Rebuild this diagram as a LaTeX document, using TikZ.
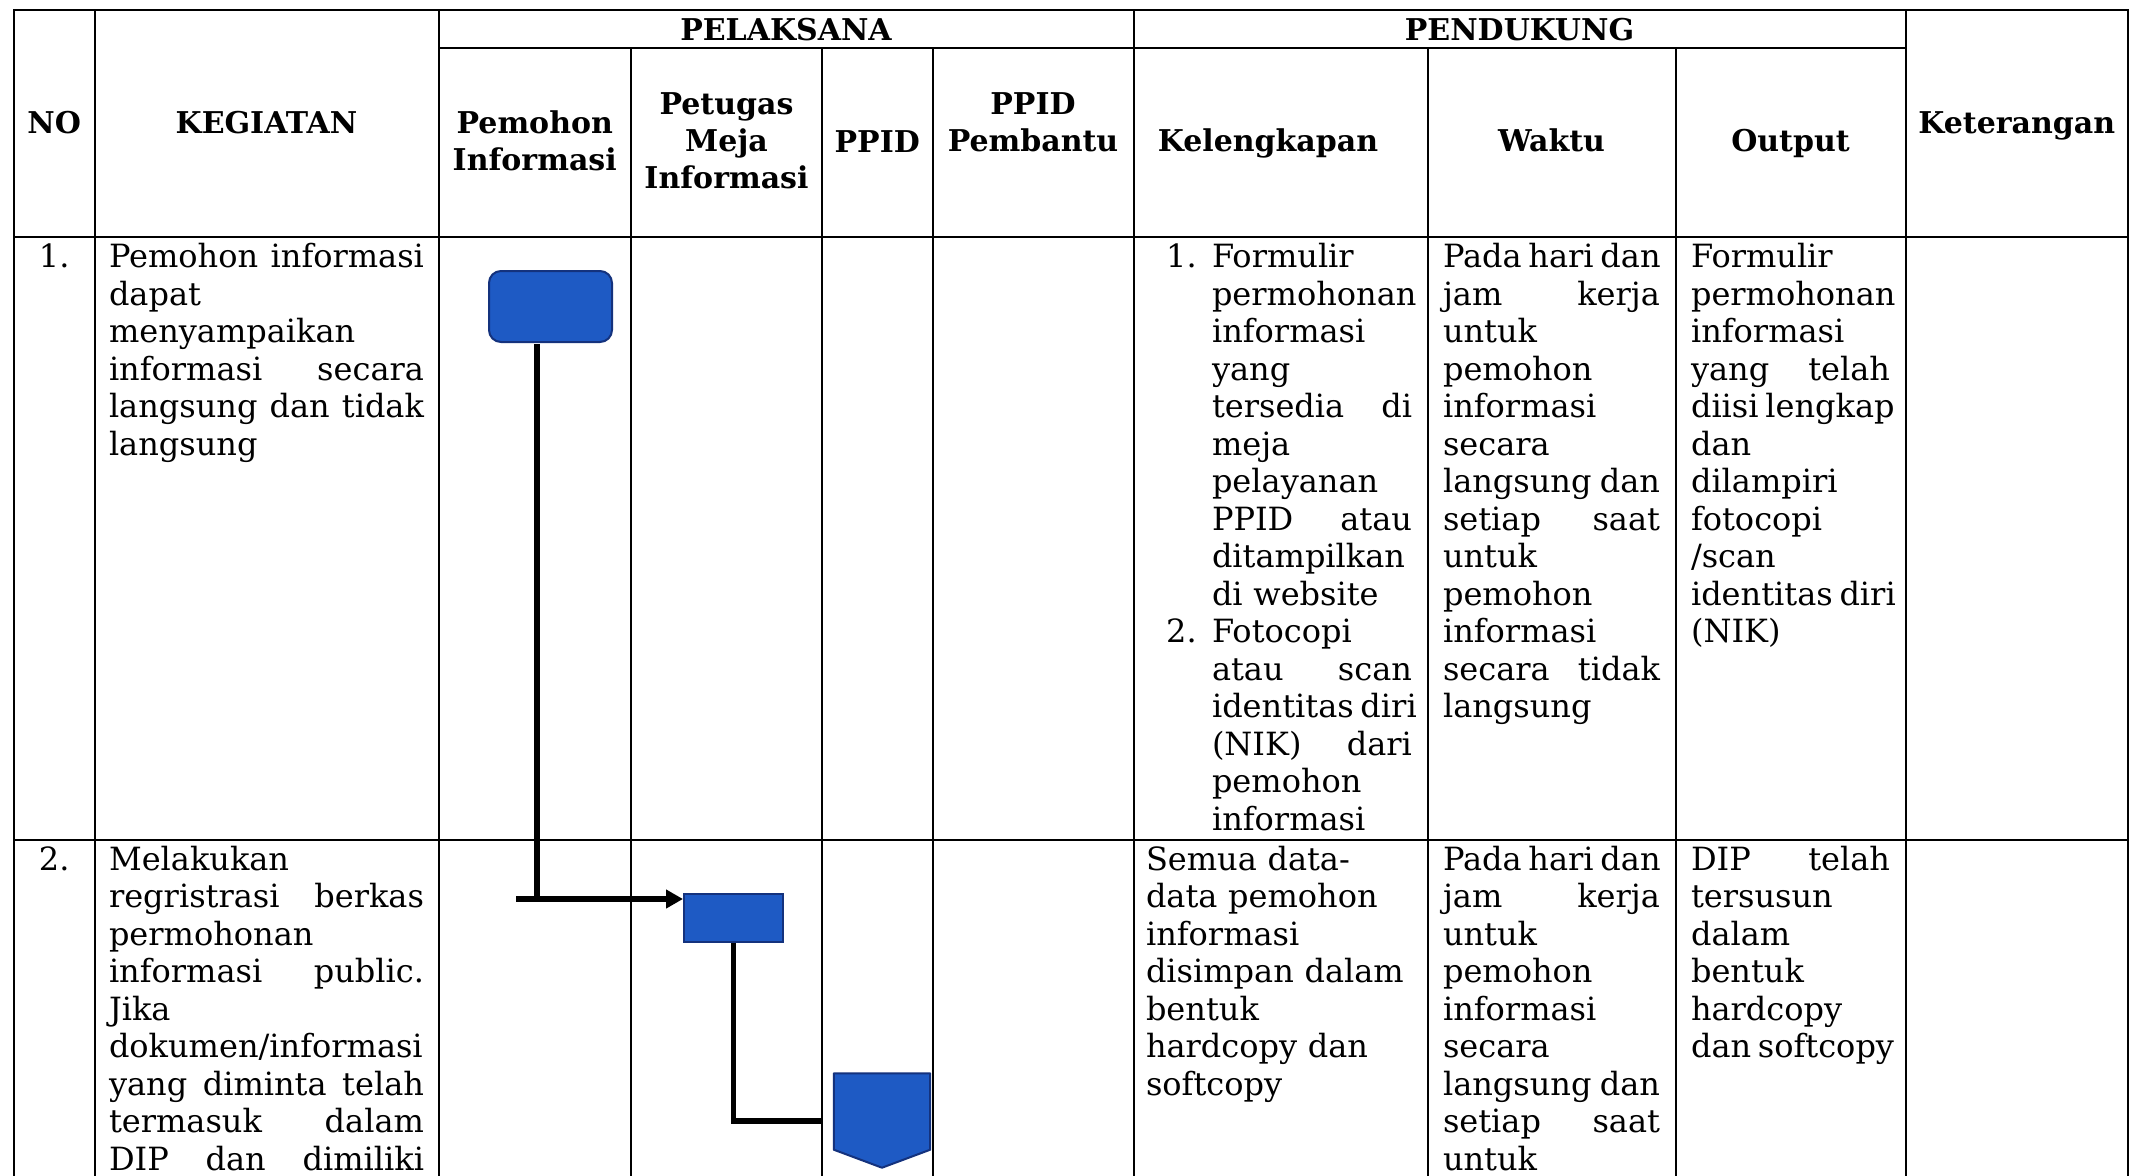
\documentclass[tikz,border=0pt]{standalone}
\usepackage{fontspec}
\setmainfont{DejaVu Serif}
\usetikzlibrary{arrows.meta,calc}

\definecolor{shapefill}{RGB}{30,90,196}
\definecolor{shapeedge}{RGB}{20,50,125}

\newcommand\bodyfont{\fontsize{32}{37.5}\selectfont\lefthyphenmin=62\relax}
\newcommand\headfont{\fontsize{30}{37}\selectfont\bfseries}
% a line whose word spaces are stretched (or squeezed) to the full cell width
\newcommand\jl[1]{\leavevmode\hbox to\hsize{\spaceskip=0pt\xspaceskip=0pt #1}}

\tikzset{
  rule/.style={line width=2pt, black, line cap=rect},
  bodycell/.style={anchor=north west, inner sep=0pt, outer sep=0pt, align=left, font=\bodyfont, text width=#1},
  numcell/.style={anchor=north, inner sep=0pt, align=center, font=\bodyfont, text width=70pt},
  listnum/.style={anchor=north west, inner sep=0pt, font=\bodyfont},
  headcell/.style={anchor=north, inner sep=0pt, align=center, font=\headfont, text width=#1},
  flowshape/.style={fill=shapefill, draw=shapeedge, line width=2pt, inner sep=0pt},
  flow/.style={line width=5.5pt, black},
}

\begin{document}
\begin{tikzpicture}[x=1pt,y=-1pt]
\useasboundingbox (0,0) rectangle (2130,1175);
\fill[white] (0,0) rectangle (2130,1175);

% table rules
\draw[rule] (14,9.5) -- (2128,9.5);
\draw[rule] (438.5,48) -- (1905.5,48);
\draw[rule] (14,237) -- (2128,237);
\draw[rule] (14,839.5) -- (2128,839.5);
\foreach \x in {14,94.5,438.5,1133.5,1905.5,2128}
  \draw[rule] (\x,9.5) -- (\x,1176);
\foreach \x in {631,822,932.5,1427.5,1675.5}
  \draw[rule] (\x,48) -- (\x,1176);

% header
\node[headcell=80pt]  (hNo)   at (54.25,107.6)  {\strut NO};
\node[headcell=330pt] (hKeg)  at (266.5,107.6)  {\strut KEGIATAN};
\node[headcell=600pt] (hPel)  at (786,14.6)     {\strut PELAKSANA};
\node[headcell=700pt] (hPen)  at (1519.5,14.6)  {\strut PENDUKUNG};
\node[headcell=190pt] (hPem)  at (534.75,107.1) {\strut Pemohon\\Informasi};
\node[headcell=190pt] (hPet)  at (726.5,88.6)   {\strut Petugas\\Meja\\Informasi};
\node[headcell=110pt] (hPpid) at (877.25,126.6) {\strut PPID};
\node[headcell=200pt] (hPpb)  at (1033,88.6)    {\strut PPID\\Pembantu};
\node[headcell=290pt] (hKel)  at (1268,125.6)   {\strut Kelengkapan};
\node[headcell=245pt] (hWak)  at (1551.5,125.6) {\strut Waktu};
\node[headcell=228pt] (hOut)  at (1790.5,125.6) {\strut Output};
\node[headcell=220pt] (hKet)  at (2016.75,107.6){\strut Keterangan};

% row 1
\node[numcell] (n1) at (54.25,241.5) {\strut 1.};
\node[bodycell=315pt] (keg1) at (109,241.5) {\strut\jl{Pemohon informasi}\\
dapat\\
menyampaikan\\
\jl{informasi secara}\\
\jl{langsung dan tidak}\\
langsung};
\node[listnum] (kel1a) at (1166,241.5) {\strut 1.};
\node[listnum] (kel1b) at (1166,616.5) {\strut 2.};
\node[bodycell=200pt] (kel1) at (1212,241.5) {\strut Formulir\\
permohonan\\
informasi\\
yang\\
\jl{tersedia di}\\
meja\\
pelayanan\\
\jl{PPID atau}\\
ditampilkan\\
\mbox{di website}\\
Fotocopi\\
\jl{atau scan}\\
\jl{identitas diri}\\
\jl{(NIK) dari}\\
pemohon\\
informasi};
\node[bodycell=217pt] (wak1) at (1443,241.5) {\strut\jl{Pada hari dan}\\
\jl{jam kerja}\\
untuk\\
pemohon\\
informasi\\
secara\\
\jl{langsung dan}\\
\jl{setiap saat}\\
untuk\\
pemohon\\
informasi\\
\jl{secara tidak}\\
langsung};
\node[bodycell=199pt] (out1) at (1691,241.5) {\strut Formulir\\
permohonan\\
informasi\\
\jl{yang telah}\\
\jl{diisi lengkap}\\
dan\\
dilampiri\\
fotocopi\\
/scan\\
\jl{identitas diri}\\
(NIK)};

% row 2
\node[numcell] (n2) at (54.25,843.75) {\strut 2.};
\node[bodycell=315pt] (keg2) at (109,843.75) {\strut Melakukan\\
\jl{regristrasi berkas}\\
permohonan\\
\jl{informasi public.}\\
Jika\\
dokumen/informasi\\
\jl{yang diminta telah}\\
\jl{termasuk dalam}\\
\jl{DIP dan dimiliki}};
\node[bodycell=266pt] (kel2) at (1146,843.75) {\strut\mbox{Semua data-}\\
\mbox{data pemohon}\\
informasi\\
\mbox{disimpan dalam}\\
bentuk\\
\mbox{hardcopy dan}\\
softcopy};
\node[bodycell=217pt] (wak2) at (1443,843.75) {\strut\jl{Pada hari dan}\\
\jl{jam kerja}\\
untuk\\
pemohon\\
informasi\\
secara\\
\jl{langsung dan}\\
\jl{setiap saat}\\
untuk};
\node[bodycell=199pt] (out2) at (1691,843.75) {\strut\jl{DIP telah}\\
tersusun\\
dalam\\
bentuk\\
hardcopy\\
\jl{dan softcopy}};

% flow shapes
\node[flowshape, rounded corners=12pt, minimum width=123pt, minimum height=71pt] (start) at (550.5,306.5) {};
\node[flowshape, minimum width=99pt, minimum height=48pt] (reg) at (733.5,918) {};
\node[inner sep=0pt, minimum width=96pt, minimum height=76pt] (dip) at (882,1111.5) {};
\filldraw[fill=shapefill, draw=shapeedge, line width=2pt, line join=round]
  (dip.north west) -- (dip.north east) -- (dip.south east)
  -- ($(dip.south)+(0,18)$) -- (dip.south west) -- cycle;

% connectors
\coordinate (stem1) at ($(start.south)+(-13.5,1)$);
\coordinate (tail1) at (516,899);
\coordinate (end2) at (822,1121);
\draw[flow] (stem1) -- (stem1 |- tail1);
\draw[flow, -{Triangle[length=17pt,width=18pt]}] (tail1) -- (reg.west |- tail1);
\draw[flow] (reg.south) |- (end2);
\end{tikzpicture}
\end{document}
